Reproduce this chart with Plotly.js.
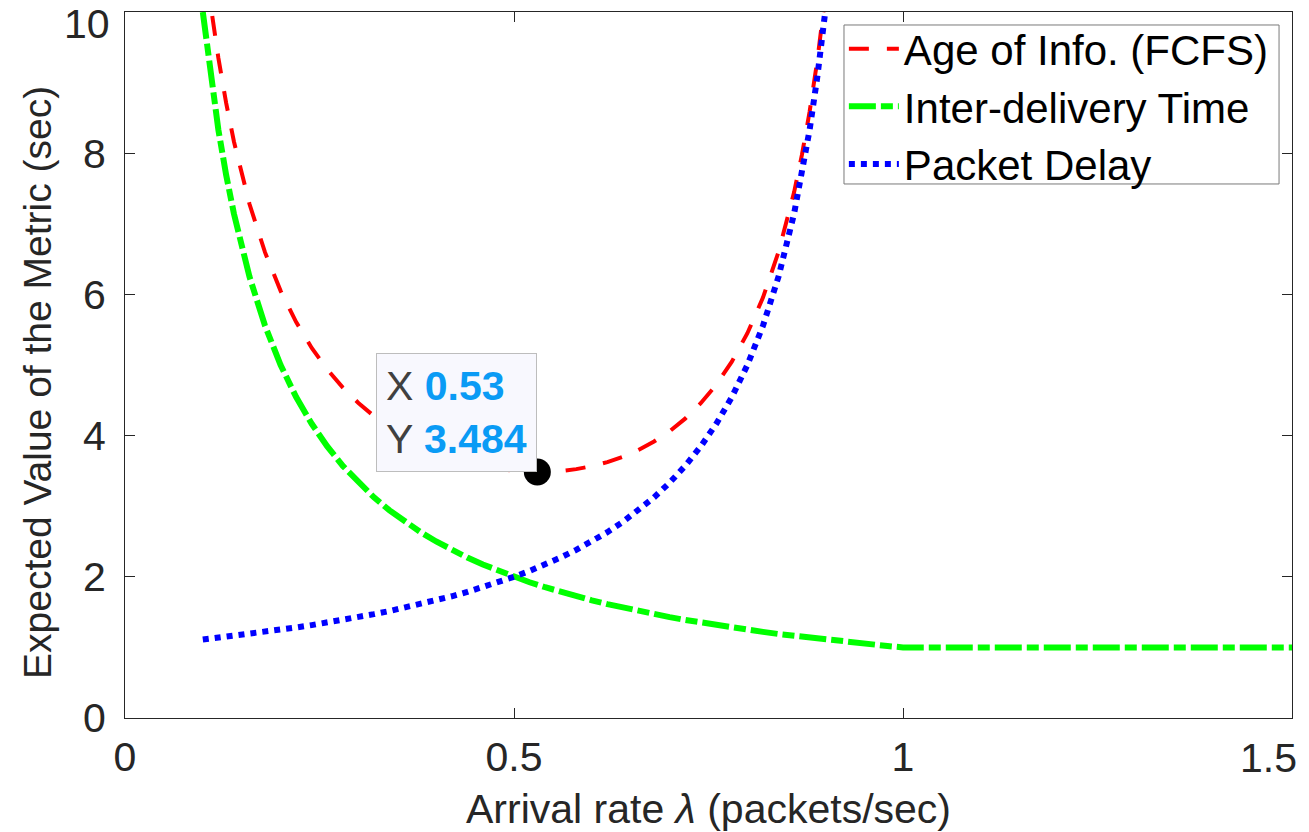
<!DOCTYPE html>
<html>
<head>
<meta charset="utf-8">
<script src="https://cdn.plot.ly/plotly-3.0.1.min.js"></script>
<style>html,body{margin:0;padding:0;background:#fff;}#chart{width:1309px;height:832px;}</style>
</head>
<body>
<div id="chart"></div>
<script>
// Arrival rate (packets/sec) for the AoI and packet-delay curves
var lambdaA = [0.10,0.11,0.12,0.13,0.14,0.16,0.18,0.20,0.22,0.24,0.26,0.28,0.30,0.32,0.34,0.36,0.38,0.40,0.42,0.44,0.46,0.48,0.50,0.52,0.54,0.56,0.58,0.60,0.62,0.64,0.66,0.68,0.70,0.72,0.74,0.76,0.78,0.80,0.82,0.84,0.86,0.87,0.88,0.89,0.90];
var ageFCFS = [11.011,10.105,9.350,8.712,8.166,7.280,6.595,6.050,5.608,5.242,4.938,4.680,4.462,4.276,4.116,3.980,3.865,3.767,3.685,3.618,3.566,3.526,3.500,3.486,3.486,3.498,3.525,3.567,3.624,3.700,3.796,3.916,4.062,4.240,4.458,4.722,5.048,5.450,5.955,6.601,7.446,7.972,8.590,9.325,10.211];
var packetDelay = [1.111,1.124,1.136,1.149,1.163,1.190,1.220,1.250,1.282,1.316,1.351,1.389,1.429,1.471,1.515,1.563,1.613,1.667,1.724,1.786,1.852,1.923,2.000,2.083,2.174,2.273,2.381,2.500,2.632,2.778,2.941,3.125,3.333,3.571,3.846,4.167,4.545,5.000,5.556,6.250,7.143,7.692,8.333,9.091,10.000];
// Arrival rate for the inter-delivery curve
var lambdaI = [0.10,0.11,0.12,0.13,0.14,0.16,0.18,0.20,0.22,0.24,0.26,0.28,0.30,0.32,0.34,0.36,0.38,0.40,0.42,0.44,0.46,0.48,0.50,0.52,0.54,0.56,0.58,0.60,0.62,0.64,0.66,0.68,0.70,0.72,0.74,0.76,0.78,0.80,0.82,0.84,0.86,0.88,0.90,0.92,0.94,0.96,0.98,1.00,1.50];
var interDelivery = [10.000,9.091,8.333,7.692,7.143,6.250,5.556,5.000,4.545,4.167,3.846,3.571,3.333,3.125,2.941,2.778,2.632,2.500,2.381,2.273,2.174,2.083,2.000,1.923,1.852,1.786,1.724,1.667,1.613,1.563,1.515,1.471,1.429,1.389,1.351,1.316,1.282,1.250,1.220,1.190,1.163,1.136,1.111,1.087,1.064,1.042,1.020,1.000,1.000];
// Data tip
var tipX = [0.53];
var tipY = [3.484];
// Ticks
var xTickVals = [0, 0.5, 1, 1.5];
var xTickText = ['0', '0.5', '1', '1.5'];
var yTickVals = [0, 2, 4, 6, 8, 10];
var yTickText = ['0', '2', '4', '6', '8', '10'];
var seriesNames = ['Age of Info. (FCFS)', 'Inter-delivery Time', 'Packet Delay'];
var xTitle = 'Arrival rate <i>λ</i> (packets/sec)';
var yTitle = 'Expected Value of the Metric (sec)';

var FONT = 'Liberation Sans, Arial, Helvetica, sans-serif';
var AX = '#262626';
var TICKSIZE = 41;

var traces = [
  {x: lambdaA, y: ageFCFS, name: seriesNames[0], mode: 'lines',
   line: {color: '#ff0000', width: 4, dash: '20px,18px'}},
  {x: lambdaI, y: interDelivery, name: seriesNames[1], mode: 'lines',
   line: {color: '#00ff00', width: 6, dash: '27px,5px,12px,5px'}},
  {x: lambdaA, y: packetDelay, name: seriesNames[2], mode: 'lines',
   line: {color: '#0000ff', width: 6, dash: '6px,6px'}},
  {x: tipX, y: tipY, mode: 'markers', showlegend: false,
   marker: {color: '#000000', size: 27}}
];

var blue = '#0a9bf5';
var tipText = 'X <b><span style="color:' + blue + '">' + tipX[0].toFixed(2) + '</span></b><br>' +
              'Y <b><span style="color:' + blue + '">' + tipY[0].toFixed(3) + '</span></b>';

// the end-of-axis labels sit at the image edge: drawn as annotations nudged inward
var lastX = xTickVals.length - 1, lastY = yTickVals.length - 1;
var xTickShown = xTickText.map(function (t, i) { return i === lastX ? '' : t; });
var yTickShown = yTickText.map(function (t, i) { return i === lastY ? '' : t; });

var axisCommon = {
  showgrid: false, zeroline: false,
  showline: true, linecolor: AX, linewidth: 1, mirror: 'ticks',
  ticks: 'inside', ticklen: 10, tickwidth: 1, tickcolor: AX,
  tickfont: {family: FONT, size: TICKSIZE, color: AX},
  tickmode: 'array', ticklabeloverflow: 'allow'
};

var layout = {
  width: 1309, height: 832,
  margin: {l: 125, r: 17, t: 12, b: 114},
  paper_bgcolor: '#ffffff', plot_bgcolor: '#ffffff',
  font: {family: FONT, color: AX},
  xaxis: Object.assign({}, axisCommon, {
    range: [0, 1.5], tickvals: xTickVals, ticktext: xTickShown,
    ticklabelstandoff: 3,
    title: {text: xTitle, font: {family: FONT, size: 41, color: AX}, standoff: 20}
  }),
  yaxis: Object.assign({}, axisCommon, {
    range: [0, 10], tickvals: yTickVals, ticktext: yTickShown,
    ticklabelstandoff: 10
  }),
  legend: {
    x: 0.616, y: 0.9958, xanchor: 'left', yanchor: 'top',
    bgcolor: 'rgba(0,0,0,0)', borderwidth: 0,
    font: {family: FONT, size: 42, color: '#000000'},
    itemwidth: 50, tracegroupgap: 0
  },
  shapes: [{
    type: 'rect', xref: 'paper', yref: 'paper', layer: 'above',
    x0: 0.6161, x1: 0.9889, y0: 0.7564, y1: 0.9816,
    fillcolor: 'rgba(255,255,255,0)', line: {color: '#7a7a7a', width: 1}
  }],
  annotations: [{
    x: tipX[0], y: tipY[0], xref: 'x', yref: 'y',
    xanchor: 'right', yanchor: 'bottom', showarrow: false,
    align: 'left', text: tipText,
    font: {family: FONT, size: 41, color: '#404040'},
    bgcolor: '#f8f8fe', bordercolor: '#bdbdbd', borderwidth: 1, borderpad: 9
  }, {
    x: 0, xref: 'paper', xanchor: 'right', xshift: -13,
    y: yTickVals[lastY], yref: 'y', yanchor: 'middle', yshift: -12,
    showarrow: false, text: yTickText[lastY],
    font: {family: FONT, size: TICKSIZE, color: AX}
  }, {
    x: xTickVals[lastX], xref: 'x', xanchor: 'center', xshift: -24,
    y: 0, yref: 'paper', yanchor: 'middle', yshift: -40,
    showarrow: false, text: xTickText[lastX],
    font: {family: FONT, size: TICKSIZE, color: AX}
  }, {
    x: 0, xref: 'paper', xanchor: 'center', xshift: -88,
    y: 0.5, yref: 'paper', yanchor: 'middle', yshift: -18,
    textangle: -90, showarrow: false, text: yTitle,
    font: {family: FONT, size: 39, color: AX}
  }],
  showlegend: true
};

Plotly.newPlot('chart', traces, layout, {displayModeBar: false, staticPlot: true});
</script>
</body>
</html>
